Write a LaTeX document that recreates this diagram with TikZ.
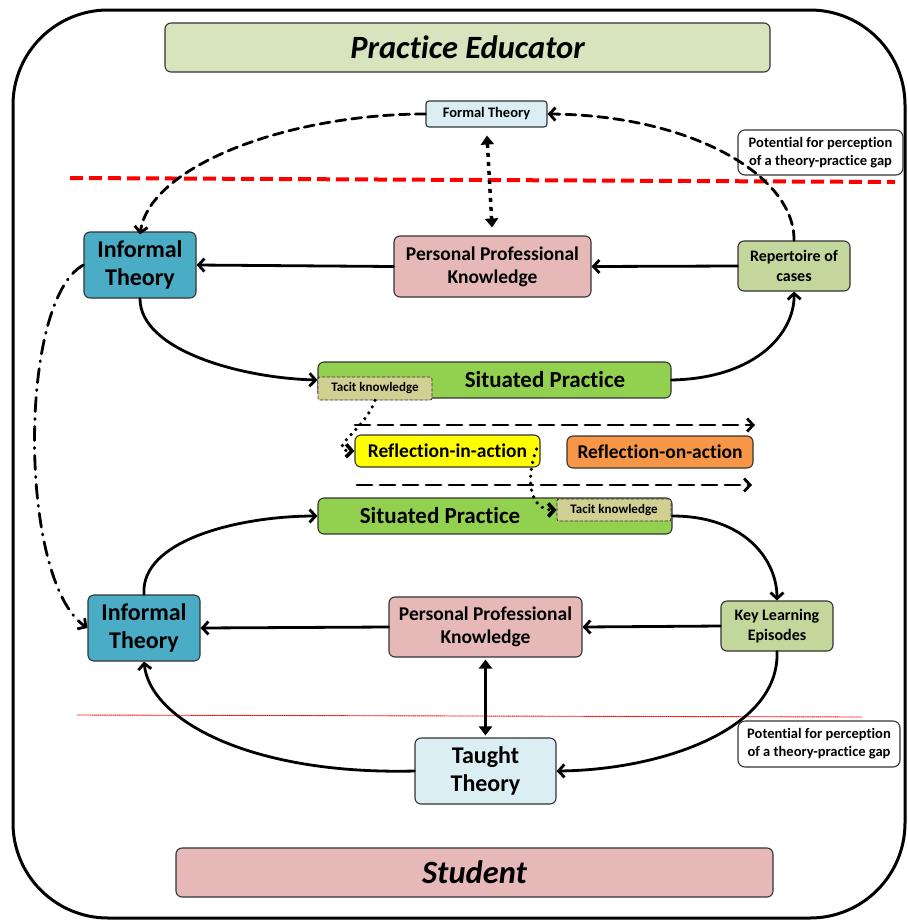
\documentclass[tikz,border=0pt]{standalone}
\usepackage{fontspec}
\setmainfont{Carlito}[Ligatures=NoCommon]
\usetikzlibrary{arrows.meta}
\definecolor{PEGreen}{HTML}{D7E4BD}
\definecolor{StuPink}{HTML}{E6B9B8}
\definecolor{TheoBlue}{HTML}{DBEEF4}
\definecolor{InfBlue}{HTML}{4BACC6}
\definecolor{CaseGreen}{HTML}{C3D69B}
\definecolor{SitGreen}{HTML}{92D050}
\definecolor{TacitTan}{HTML}{D2CF92}
\definecolor{RefYellow}{HTML}{FFFF00}
\definecolor{RefOrange}{HTML}{F79646}
\definecolor{GapRed}{HTML}{FF0000}

\begin{document}
\begin{tikzpicture}[x=1pt,y=-1pt,>={Straight Barb[length=6pt,width=13pt]},line cap=round]
\tikzset{box/.style={draw=black!80,line width=1.1pt,rounded corners=6pt,align=center,inner sep=1pt,font=\bfseries},
  flow/.style={->,line width=2.8pt},
  gapnote/.style={box,fill=white,rounded corners=7pt,font=\fontsize{14.5}{18}\selectfont\bfseries},
  tacit/.style={box,densely dashed,line width=0.8pt,rounded corners=2pt,fill=TacitTan,font=\fontsize{13}{15}\selectfont\bfseries},
  bigtxt/.style={font=\fontsize{24}{28}\selectfont\bfseries},
  midtxt/.style={font=\fontsize{19.5}{23}\selectfont\bfseries},
  smalltxt/.style={font=\fontsize{16}{20}\selectfont\bfseries},
  dotflow/.style={->,line width=3.6pt,dash pattern=on 0pt off 7pt}}
\useasboundingbox (0,0) rectangle (908,922);
\draw[line width=3pt,rounded corners=95pt] (13,10) rectangle (905,918);
% top half
\node[box,fill=PEGreen,minimum width=605pt,minimum height=49pt,font=\fontsize{32.5}{36}\selectfont\bfseries\itshape] (educator) at (467.5,47.5) {Practice Educator};
\node[box,fill=TheoBlue,minimum width=121pt,minimum height=26pt,rounded corners=3pt,font=\fontsize{14.5}{17}\selectfont\bfseries] (formal) at (486.5,114) {Formal Theory};
\node[gapnote,minimum width=165pt,minimum height=45pt] (gaptop) at (820.5,152.5) {Potential for perception\\of a theory-practice gap};
\draw[GapRed,line width=4pt,line cap=butt,dash pattern=on 13pt off 6pt] (70,178) coordinate (redA) -- (895,182) coordinate (redB);
\node[box,bigtxt,fill=InfBlue,minimum width=112pt,minimum height=66pt] (infA) at (140,265) {Informal\\Theory};
\node[box,midtxt,fill=StuPink,minimum width=197pt,minimum height=61pt] (ppkA) at (492.5,266.5) {Personal Professional\\Knowledge};
\node[box,smalltxt,fill=CaseGreen,minimum width=112pt,minimum height=50pt] (cases) at (794,266) {Repertoire of\\cases};
\node[box,fill=SitGreen,minimum width=353pt,minimum height=36pt] (sitA) at (494.5,380) {};
\node[font=\fontsize{23}{26}\selectfont\bfseries] (sitAtxt) at (545,380) {Situated Practice};
\node[tacit,minimum width=114pt,minimum height=23pt] (tacitA) at (375,388.5) {Tacit knowledge};
% reflection
\coordinate (dashAs) at (355,425); \coordinate (dashAe) at (755,425);
\coordinate (dashBs) at (357,485); \coordinate (dashBe) at (752,485);
\draw[->,line width=2.8pt,dash pattern=on 15pt off 8pt] (dashAs) -- (dashAe);
\draw[->,line width=2.8pt,dash pattern=on 15pt off 8pt] (dashBs) -- (dashBe);
\node[box,fill=RefYellow,minimum width=185pt,minimum height=32pt,font=\fontsize{19.5}{22}\selectfont\bfseries] (refin) at (447.5,451) {Reflection-in-action};
\node[box,fill=RefOrange,minimum width=186pt,minimum height=32pt,font=\fontsize{19.5}{22}\selectfont\bfseries] (refon) at (660,452) {Reflection-on-action};
% bottom half
\node[box,fill=SitGreen,minimum width=354pt,minimum height=36pt] (sitB) at (495,516) {};
\node[font=\fontsize{23}{26}\selectfont\bfseries] (sitBtxt) at (440,516) {Situated Practice};
\node[tacit,minimum width=114pt,minimum height=22pt] (tacitB) at (614,510) {Tacit knowledge};
\node[box,bigtxt,fill=InfBlue,minimum width=112pt,minimum height=66pt] (infB) at (144,628) {Informal\\Theory};
\node[box,midtxt,fill=StuPink,minimum width=193pt,minimum height=60pt] (ppkB) at (485.5,627) {Personal Professional\\Knowledge};
\node[box,smalltxt,fill=CaseGreen,minimum width=112pt,minimum height=50pt] (kle) at (777,626) {Key Learning\\Episodes};
\draw[GapRed,line width=0.9pt,densely dotted] (77,715) coordinate (redC) -- (862,717) coordinate (redD);
\node[box,bigtxt,fill=TheoBlue,minimum width=141pt,minimum height=66pt] (taught) at (485.5,771) {Taught\\Theory};
\node[gapnote,minimum width=162pt,minimum height=46pt] (gapbot) at (819,744) {Potential for perception\\of a theory-practice gap};
\node[box,fill=StuPink,minimum width=597pt,minimum height=49pt,font=\fontsize{32.5}{36}\selectfont\bfseries\itshape] (student) at (474.5,872.5) {Student};
% connectors, top
\draw[flow,dash pattern=on 10pt off 6pt] (formal.west) .. controls (290,114) and (150,165) .. ([yshift=-3pt]infA.north);
\draw[flow,dash pattern=on 10pt off 6pt] (cases.north) .. controls (795,175) and (690,115) .. (formal.east);
\draw[{Triangle[length=9pt,width=13pt]}-{Triangle[length=9pt,width=13pt]},line width=3.5pt,dash pattern=on 4pt off 5pt,line cap=butt,shorten <=8pt,shorten >=8pt] (formal.south) -- (ppkA.north);
\draw[flow] (ppkA.west) -- (infA.east);
\draw[flow] (cases.west) -- (ppkA.east);
\draw[flow] (infA.south) .. controls (140,350) and (240,378) .. (sitA.west);
\draw[flow] (sitA.east) .. controls (760,378) and (795,330) .. (cases.south);
\draw[dotflow] (tacitA.south) .. controls (365,430) and (325,450) .. (refin.west);
\draw[dotflow] ([xshift=-4pt,yshift=2pt]refin.east) .. controls (525,480) and (530,510) .. (tacitB.west);
% connectors, bottom
\draw[flow] (infB.north) .. controls (140,540) and (240,516) .. (sitB.west);
\draw[flow] (sitB.east) .. controls (745,516) and (777,560) .. (kle.north);
\draw[flow] (kle.west) -- (ppkB.east);
\draw[flow] (ppkB.west) -- (infB.east);
\draw[{Triangle[length=9pt,width=13pt]}-{Triangle[length=9pt,width=13pt]},line width=3.5pt,shorten <=2pt,shorten >=2pt] (ppkB.south) -- (taught.north);
\draw[flow] (kle.south) .. controls (780,730) and (660,770) .. (taught.east);
\draw[flow] (taught.west) .. controls (250,775) and (150,720) .. (infB.south);
\draw[flow,dash pattern=on 14pt off 7pt on 1pt off 7pt] (infA.west) .. controls (18,300) and (18,580) .. (infB.west);
\end{tikzpicture}
\end{document}
